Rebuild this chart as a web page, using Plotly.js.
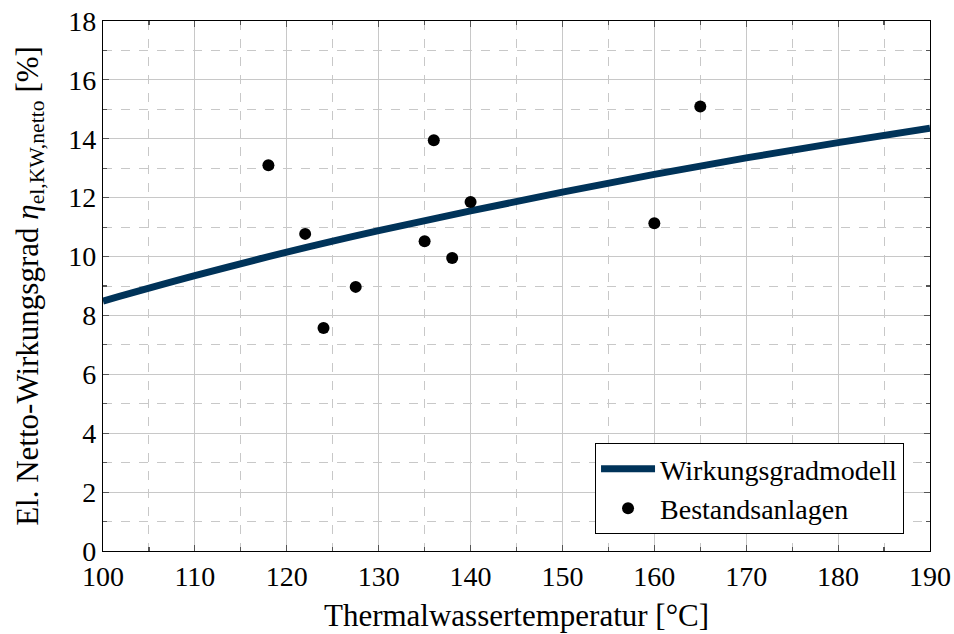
<!DOCTYPE html>
<html>
<head>
<meta charset="utf-8">
<script src="https://cdn.plot.ly/plotly-3.0.1.min.js"></script>
<style>html,body{margin:0;padding:0;background:#fff;}#chart{width:954px;height:634px;}</style>
</head>
<body>
<div id="chart"></div>
<script>
// Wirkungsgradmodell (model curve)
const modelTemp = [100, 110, 120, 130, 140, 150, 160, 170, 180, 190];
const modelEta  = [8.49, 9.35, 10.15, 10.88, 11.55, 12.19, 12.79, 13.35, 13.87, 14.36];

// Bestandsanlagen (existing plants)
const plantTemp = [118, 122, 124, 127.5, 135, 136, 138, 140, 160, 165];
const plantEta  = [13.1, 10.77, 7.57, 8.97, 10.52, 13.95, 9.95, 11.85, 11.13, 15.1];

const xTicks = [100, 110, 120, 130, 140, 150, 160, 170, 180, 190];
const yTicks = [0, 2, 4, 6, 8, 10, 12, 14, 16, 18];

const FONT = "Liberation Serif, DejaVu Serif, serif";

const traces = [
  {
    x: modelTemp, y: modelEta, type: 'scatter', mode: 'lines',
    name: 'Wirkungsgradmodell',
    line: {color: '#003359', width: 7, shape: 'spline'}
  },
  {
    x: plantTemp, y: plantEta, type: 'scatter', mode: 'markers',
    name: 'Bestandsanlagen',
    marker: {color: '#000000', size: 12}
  }
];

const axisCommon = {
  showline: true, linecolor: '#000', linewidth: 1.2, mirror: 'ticks',
  ticks: 'inside', ticklen: 6, tickwidth: 1.2, tickcolor: '#555',
  showgrid: true, gridcolor: '#c8c8c8', gridwidth: 1,
  zeroline: false,
  tickfont: {family: FONT, size: 28, color: '#000'},
};

const layout = {
  width: 954, height: 634,
  margin: {l: 103, r: 24, t: 21, b: 83},
  paper_bgcolor: '#fff', plot_bgcolor: '#fff',
  font: {family: FONT, color: '#000'},
  showlegend: true,
  legend: {
    x: 0.9686, xanchor: 'right', y: 0.032, yanchor: 'bottom',
    bordercolor: '#000', borderwidth: 1, bgcolor: '#fff',
    font: {family: FONT, size: 28, color: '#000'},
    itemwidth: 54,
    tracegroupgap: 0
  },
  xaxis: Object.assign({}, axisCommon, {
    range: [100, 190], tickvals: xTicks, ticktext: xTicks.map(String),
    minor: {dtick: 5, tick0: 100, showgrid: true, gridcolor: '#c8c8c8', griddash: 'dash', ticks: 'inside', ticklen: 4, tickcolor: '#555'},
    title: {text: 'Thermalwassertemperatur [°C]', font: {family: FONT, size: 31, color: '#000'}, standoff: 13}
  }),
  yaxis: Object.assign({}, axisCommon, {
    range: [0, 18], tickvals: yTicks, ticktext: yTicks.map(String),
    minor: {dtick: 1, tick0: 0, showgrid: true, gridcolor: '#c8c8c8', griddash: 'dash', ticks: 'inside', ticklen: 4, tickcolor: '#555'},
    title: {text: 'El. Netto-Wirkungsgrad <i>η</i><sub>el,KW,netto</sub> [%]', font: {family: FONT, size: 31, color: '#000'}, standoff: 20}
  })
};

Plotly.newPlot('chart', traces, layout, {displayModeBar: false, staticPlot: true});
</script>
</body>
</html>
